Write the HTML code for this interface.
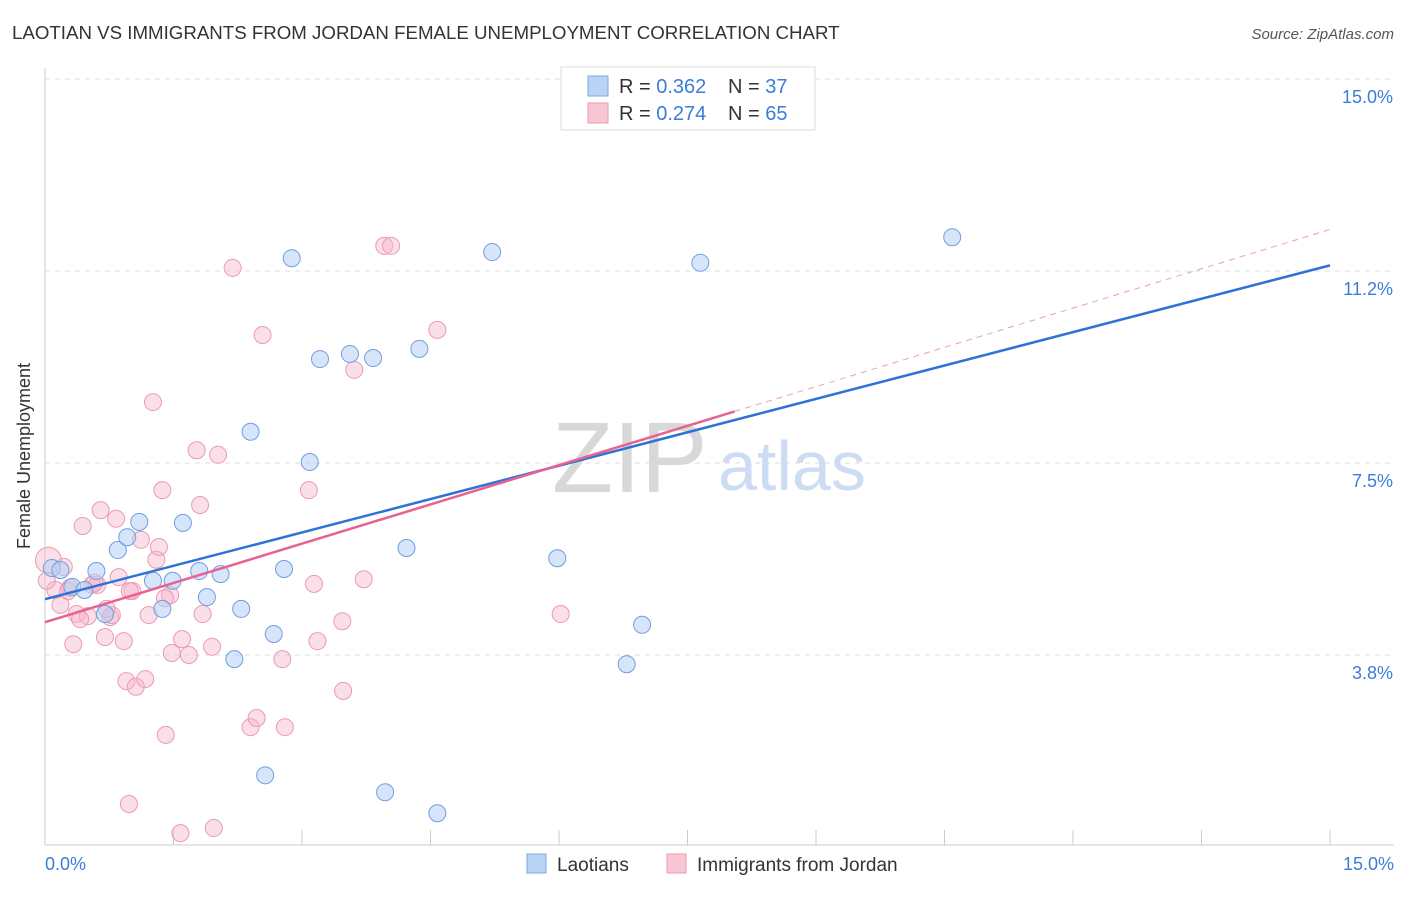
<!DOCTYPE html>
<html><head><meta charset="utf-8"><style>
body{margin:0;background:#fff;font-family:"Liberation Sans",sans-serif}
svg text{font-family:"Liberation Sans",sans-serif}
</style></head><body>
<svg width="1406" height="892">
<text x="12" y="39" font-size="18.7" fill="#333">LAOTIAN VS IMMIGRANTS FROM JORDAN FEMALE UNEMPLOYMENT CORRELATION CHART</text>
<text x="1394" y="39" font-size="15" fill="#555" font-style="italic" text-anchor="end">Source: ZipAtlas.com</text>
<g id="grid"></g>
<line x1="45" y1="68" x2="45" y2="845" stroke="#ccc"/>
<line x1="45" y1="845" x2="1394" y2="845" stroke="#ccc"/>
<text x="30" y="456" font-size="18" fill="#333" text-anchor="middle" transform="rotate(-90 30 456)">Female Unemployment</text>
<text x="552" y="492" font-size="100" fill="#d8d8d8" font-family="Liberation Serif">ZIP</text>
<text x="718" y="490" font-size="70" fill="#cddcf2">atlas</text>
<g id="pts"></g>
<g id="lines"></g>
<text x="45" y="870" font-size="18" fill="#3b7dd8">0.0%</text>
<text x="1394" y="870" font-size="18" fill="#3b7dd8" text-anchor="end">15.0%</text>
<g>
<rect x="561" y="67" width="254" height="63" fill="#fff" stroke="#ddd"/>
<rect x="588" y="76" width="20" height="20" fill="#b9d3f5" stroke="#7fa8e0"/>
<rect x="588" y="103" width="20" height="20" fill="#f9c6d4" stroke="#eb9ab3"/>
<text x="619" y="93" font-size="20" fill="#333">R = <tspan fill="#3b7dd8">0.362</tspan></text>
<text x="728" y="93" font-size="20" fill="#333">N = <tspan fill="#3b7dd8">37</tspan></text>
<text x="619" y="120" font-size="20" fill="#333">R = <tspan fill="#3b7dd8">0.274</tspan></text>
<text x="728" y="120" font-size="20" fill="#333">N = <tspan fill="#3b7dd8">65</tspan></text>
</g>
<g>
<rect x="527" y="854" width="19" height="19" fill="#b9d3f5" stroke="#7fa8e0"/>
<text x="557" y="871" font-size="19" fill="#333">Laotians</text>
<rect x="667" y="854" width="19" height="19" fill="#f9c6d4" stroke="#eb9ab3"/>
<text x="697" y="871" font-size="19" fill="#333">Immigrants from Jordan</text>
</g>
</svg>
<script>
const yTicks=[3.75,7.5,11.25,15];
const yTickLabels=["3.8%","7.5%","11.2%","15.0%"];
const xTicks=[0,1.5,3,4.5,6,7.5,9,10.5,12,13.5,15];
const blueX=[0.08,0.18,0.32,0.46,0.6,0.7,0.85,0.96,1.1,1.26,1.37,1.49,1.61,1.8,1.89,2.05,2.29,2.4,2.57,2.67,2.79,2.88,3.09,3.21,3.56,3.83,3.97,4.22,4.37,4.58,5.22,5.98,6.79,6.97,7.65,10.59,2.21];
const blueY=[5.45,5.41,5.08,5.02,5.39,4.55,5.8,6.05,6.35,5.2,4.65,5.2,6.33,5.39,4.88,5.33,4.65,8.11,1.4,4.16,5.43,11.5,7.52,9.53,9.63,9.55,1.07,5.84,9.73,0.66,11.62,5.64,3.57,4.34,11.41,11.91,3.67];
const pinkX=[0.04,0.12,0.18,0.22,0.29,0.33,0.37,0.44,0.5,0.55,0.61,0.65,0.7,0.76,0.83,0.86,0.92,0.95,0.98,1.02,1.06,1.12,1.17,1.21,1.26,1.3,1.33,1.37,1.41,1.46,1.48,1.58,1.6,1.68,1.77,1.81,1.84,1.95,1.97,2.02,2.19,2.4,2.47,2.54,2.77,2.8,3.08,3.14,3.18,3.47,3.48,3.61,3.72,3.96,4.04,4.58,6.02,0.02,0.41,0.58,0.78,0.99,1.4,0.72,0.27];
const pinkY=[5.6,5.02,4.73,5.47,5.06,3.96,4.55,6.27,4.51,5.12,5.12,6.58,4.1,4.49,6.41,5.27,4.02,3.24,0.84,5.0,3.13,6.0,3.28,4.53,8.69,5.61,5.86,6.97,2.19,4.92,3.79,0.27,4.06,3.75,7.75,6.68,4.55,3.91,0.37,7.66,11.31,2.34,2.52,10.0,3.67,2.34,6.97,5.14,4.02,4.41,3.05,9.32,5.23,11.74,11.74,10.1,4.55,5.2,4.45,5.16,4.53,5.0,4.86,4.65,5.0];
const blueLine=[4.84,11.36];
const pinkLine=[4.39,12.06];
const pinkSolidEnd=8.05;
const X=v=>45+v*(1285/15), Y=v=>847-v*(768/15);
const ns="http://www.w3.org/2000/svg";
function mk(t,a,p){const e=document.createElementNS(ns,t);for(const k in a)e.setAttribute(k,a[k]);p.appendChild(e);return e;}
const g=document.getElementById('grid');
yTicks.forEach((t,i)=>{const l=mk('line',{x1:45,x2:1394,y1:Y(t),y2:Y(t),stroke:'#ddd','stroke-dasharray':'5,5'},g);


const tx=mk('text',{x:1393,y:Y(t)+24,'font-size':18,fill:'#3b7dd8','text-anchor':'end'},g);tx.textContent=yTickLabels[i];

});
xTicks.forEach(t=>{const l=mk('line',{x1:X(t),x2:X(t),y1:830,y2:845,stroke:'#ccc'},g);

});
const p=document.getElementById('pts');
pinkX.forEach((x,i)=>{const c=mk('circle',{cx:X(x),cy:Y(pinkY[i]),r:i==0?13:8.5,fill:'rgba(247,184,203,0.45)',stroke:'#eb9ab3','stroke-width':1},p);

});
blueX.forEach((x,i)=>{const c=mk('circle',{cx:X(x),cy:Y(blueY[i]),r:8.5,fill:'rgba(180,208,245,0.55)',stroke:'#6f9fe0','stroke-width':1},p);

});
const L=document.getElementById('lines');
const pv=x=>pinkLine[0]+(pinkLine[1]-pinkLine[0])*x/15;
let a=mk('line',{x1:X(0),y1:Y(blueLine[0]),x2:X(15),y2:Y(blueLine[1]),stroke:'#2f72d6','stroke-width':2.5},L);


a=mk('line',{x1:X(0),y1:Y(pv(0)),x2:X(pinkSolidEnd),y2:Y(pv(pinkSolidEnd)),stroke:'#e8628f','stroke-width':2.5},L);


a=mk('line',{x1:X(pinkSolidEnd),y1:Y(pv(pinkSolidEnd)),x2:X(15),y2:Y(pv(15)),stroke:'#e8a0b8','stroke-width':1,'stroke-dasharray':'6,5'},L);


</script>
</body></html>
